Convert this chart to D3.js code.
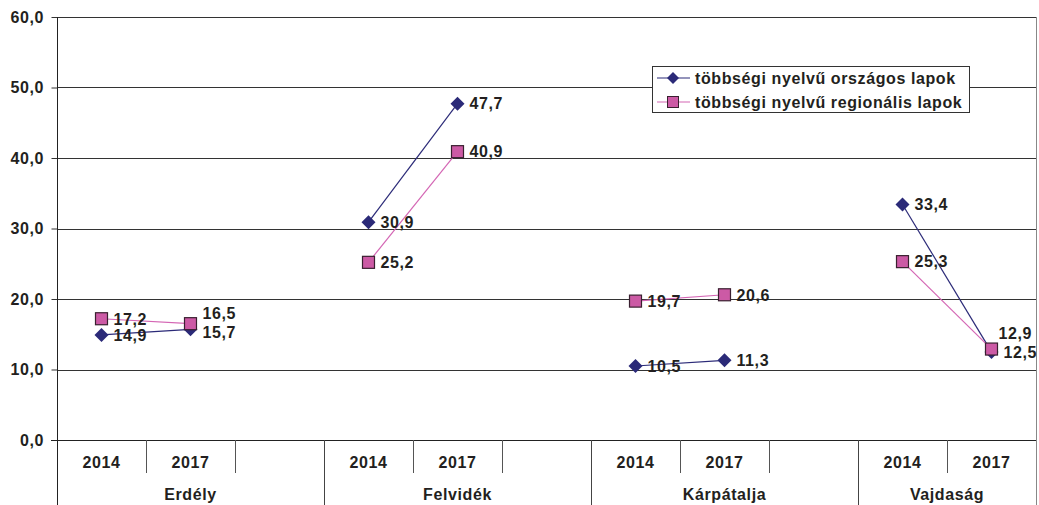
<!DOCTYPE html>
<html><head><meta charset="utf-8">
<script src="https://cdn.jsdelivr.net/npm/d3@7"></script>
<style>
html,body{margin:0;padding:0;background:#fff;}
text{font-family:"Liberation Sans",Arial,sans-serif;font-weight:bold;fill:#231f20;letter-spacing:0.6px;}
</style></head>
<body><svg id="c" width="1039" height="505"></svg>
<script>
const groups = ["Erdély","Felvidék","Kárpátalja","Vajdaság"];
const years = ["2014","2017"];
const seriesNames = ["többségi nyelvű országos lapok","többségi nyelvű regionális lapok"];
const orszagos = [14.9,15.7, 30.9,47.7, 10.5,11.3, 33.4,12.5];
const regionalis = [17.2,16.5, 25.2,40.9, 19.7,20.6, 25.3,12.9];
const yTicks = [0,10,20,30,40,50,60];

(function(){
const svg = d3.select("#c");
const W=1039,H=505;
const pLeft=57, pRight=1036, pTop=17, pBottom=440;
const FS=16;

const slots=[];
groups.forEach((g,gi)=>{
  years.forEach(yr=>slots.push({g,gi,y:yr,key:g+"|"+yr}));
  if(gi<groups.length-1) slots.push({g,gi,y:"",key:g+"|sp"});
});
const x=d3.scaleBand().domain(slots.map(s=>s.key)).range([pLeft,pRight]).padding(0);
const y=d3.scaleLinear().domain([0,60]).range([pBottom,pTop]);
const fmt=v=>d3.format(".1f")(v).replace(".",",");

svg.append("g").selectAll("line").data(yTicks.filter(t=>t>0)).join("line")
 .attr("x1",pLeft).attr("x2",pRight).attr("y1",d=>Math.round(y(d))+0.5).attr("y2",d=>Math.round(y(d))+0.5)
 .attr("stroke","#333").attr("stroke-width",1);
svg.append("line").attr("x1",pRight+0.5).attr("x2",pRight+0.5).attr("y1",pTop).attr("y2",H)
 .attr("stroke","#888");

const yAxis=d3.axisLeft(y).tickValues(yTicks).tickSize(6).tickFormat(fmt);
const ya=svg.append("g").attr("transform",`translate(${pLeft+0.5},0)`).call(yAxis);
ya.select(".domain").remove();
ya.selectAll(".tick line").attr("stroke","#333");
ya.selectAll(".tick text").attr("x",-13.5).attr("font-size",FS).attr("font-family","Liberation Sans, Arial").attr("font-weight","bold").attr("fill","#231f20");
svg.append("line").attr("x1",pLeft+0.5).attr("x2",pLeft+0.5).attr("y1",pTop).attr("y2",H).attr("stroke","#222");
svg.append("line").attr("x1",pLeft-6).attr("x2",pRight).attr("y1",Math.round(y(0))+0.5).attr("y2",Math.round(y(0))+0.5).attr("stroke","#222");

const y0=Math.round(y(0));
slots.forEach((s,i)=>{
  if(i===0) return;
  const xx=Math.round(x(s.key))+0.5;
  const groupStart = slots[i-1].g!==s.g;
  svg.append("line").attr("x1",xx).attr("x2",xx).attr("y1",y0).attr("y2",groupStart?H:y0+33)
   .attr("stroke",groupStart?"#444":"#555");
});
svg.append("g").selectAll("text").data(slots.filter(s=>s.y)).join("text")
 .attr("x",s=>x(s.key)+x.bandwidth()/2).attr("y",y0+28).attr("text-anchor","middle")
 .attr("font-size",FS).text(s=>s.y);
groups.forEach((g,gi)=>{
  const gs=slots.filter(s=>s.g===g);
  const x1=x(gs[0].key), x2=x(gs[gs.length-1].key)+x.bandwidth();
  svg.append("text").attr("x",(x1+x2)/2).attr("y",y0+60).attr("text-anchor","middle")
   .attr("font-size",FS).text(g);
});

const dataSlots=slots.filter(s=>s.y);
const navy="#2b2a78", pink="#cc5aa5", pinkLine="#d466b4";
function series(vals,lineColor){
  const pts=vals.map((v,i)=>({v,s:dataSlots[i],i}));
  groups.forEach(g=>{
    const gp=pts.filter(p=>p.s.g===g);
    svg.append("path").datum(gp)
     .attr("d",d3.line().x(p=>x(p.s.key)+x.bandwidth()/2).y(p=>y(p.v)))
     .attr("fill","none").attr("stroke",lineColor).attr("stroke-width",1.2);
  });
  return pts;
}
const pN=series(orszagos,navy);
const pR=series(regionalis,pinkLine);
function markers(pts,shape){
  pts.forEach(p=>{
    const cx=x(p.s.key)+x.bandwidth()/2, cy=y(p.v);
    if(shape==="d"){
      svg.append("path").attr("d",`M${cx},${cy-7}L${cx+7},${cy}L${cx},${cy+7}L${cx-7},${cy}Z`).attr("fill",navy);
    } else {
      svg.append("rect").attr("x",cx-6).attr("y",cy-6).attr("width",12).attr("height",12)
       .attr("fill",pink).attr("stroke","#3a2030").attr("stroke-width",1.2);
    }
  });
}
markers(pN,"d");
markers(pR,"s");
const labelAdj={ "s|1":[0,-10.5], "d|1":[0,3], "s|7":[-5,-16] };
function labels(pts,sh){
  pts.forEach(p=>{
    const cx=x(p.s.key)+x.bandwidth()/2, cy=y(p.v);
    const adj=labelAdj[sh+"|"+p.i]||[0,0];
    svg.append("text").attr("x",cx+12+adj[0]).attr("y",cy+adj[1]).attr("dy","0.36em")
     .attr("font-size",FS).text(fmt(p.v));
  });
}
labels(pN,"d");
labels(pR,"s");

const lg=svg.append("g");
lg.append("rect").attr("x",652.5).attr("y",66.5).attr("width",317).attr("height",46)
 .attr("fill","#fff").attr("stroke","#333");
[[navy,"d",78],[pinkLine,"s",102]].forEach((e,i)=>{
  const cy=e[2], cx=673;
  lg.append("line").attr("x1",657).attr("x2",690).attr("y1",cy).attr("y2",cy).attr("stroke",e[0]).attr("stroke-width",1.2);
  if(e[1]==="d") lg.append("path").attr("d",`M${cx},${cy-6}L${cx+6},${cy}L${cx},${cy+6}L${cx-6},${cy}Z`).attr("fill",navy);
  else lg.append("rect").attr("x",cx-5.5).attr("y",cy-5.5).attr("width",11).attr("height",11).attr("fill",pink).attr("stroke","#3a2030");
  lg.append("text").attr("x",695).attr("y",cy).attr("dy","0.36em").attr("font-size",FS).text(seriesNames[i]);
});
})();
</script></body></html>
